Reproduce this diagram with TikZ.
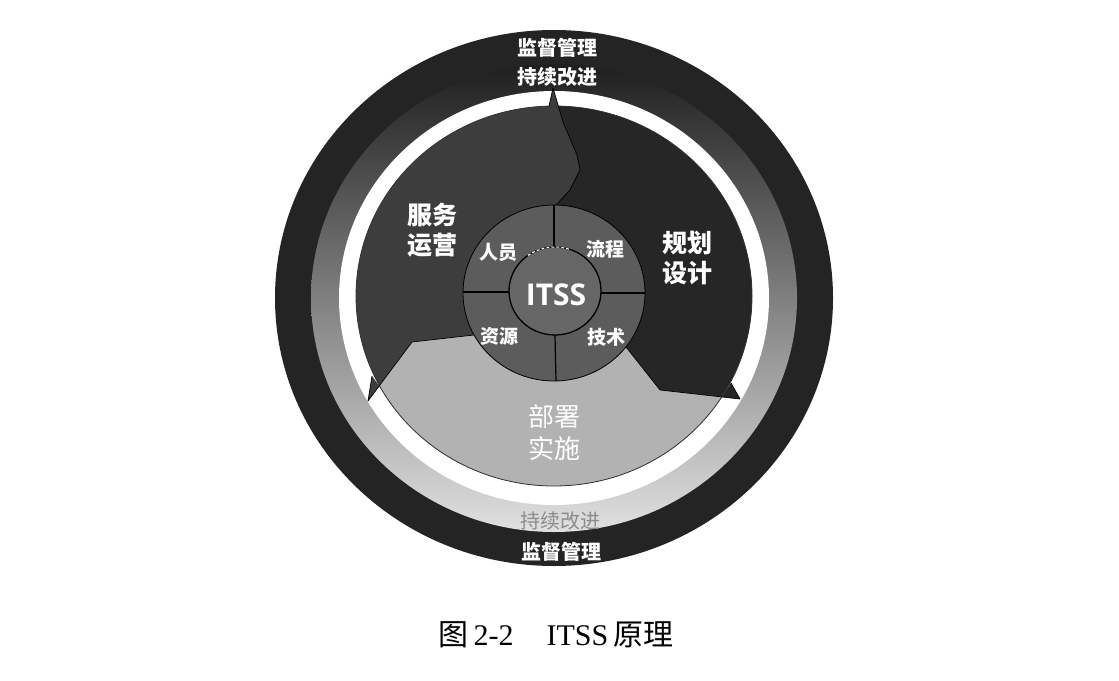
\documentclass[tikz,border=0pt]{standalone}
\usepackage{fontspec}
\newfontfamily\cjk{Noto Sans CJK SC}
\newfontfamily\itssfont{Open Sans}
\newfontfamily\capserif{Liberation Serif}
\begin{document}
\begin{tikzpicture}[x=1pt,y=-1pt,
  wt/.style={text=white,inner sep=0pt,align=center},
  bnd/.style={draw=black,line width=0.7pt,line join=round},
  ringtxt/.style={wt,font=\cjk\bfseries\fontsize{20}{22}\selectfont},
  bigtxt/.style={wt,font=\cjk\bfseries\fontsize{25}{30}\selectfont},
  quadtxt/.style={wt,font=\cjk\bfseries\fontsize{19}{21}\selectfont}]
\colorlet{ringdark}{black!86}
\colorlet{svc}{black!76}
\colorlet{plan}{black!85}
\colorlet{dep}{black!30}
\colorlet{midc}{black!64}
\colorlet{itssc}{black!60}
\useasboundingbox (0,0) rectangle (1119,680);
\fill[white] (0,0) rectangle (1119,680);
\coordinate (rc) at (554,298);
\coordinate (dc) at (554,296);
\coordinate (ic) at (554,293);
\coordinate (tc) at (555,291);
% outer rings
\fill[ringdark] (rc) ellipse [x radius=279, y radius=268];
\shade[top color=black!88, middle color=black!42, bottom color=black!12] (rc) ellipse [x radius=243, y radius=234];
\fill[white] (rc) ellipse [x radius=215, y radius=207];
% inner disc
\fill[svc] (dc) ellipse [x radius=198, y radius=190];
\begin{scope}
\clip (dc) ellipse [x radius=198, y radius=190];
\fill[plan] (553,0) -- (553,88) -- (563,122) -- (577,155) -- (580,170) -- (570,190) -- (556,205) -- (ic) -- (626,347) -- (660,390) -- (740,399) -- (900,399) -- (900,0) -- cycle;
\fill[dep] (368,401) -- (412,342) -- (474,335) -- (ic) -- (626,347) -- (660,390) -- (740,399) -- (900,399) -- (900,600) -- (200,600) -- (200,401) -- cycle;
\end{scope}
% tips
\coordinate (tT) at (553,88);
\coordinate (tL) at (368,401);
\coordinate (tR) at (740,399);
\fill[svc] (tT) -- (558.3,106) -- (549,106) -- cycle;
\fill[svc] (tL) -- (379.2,386) -- (372,376) -- cycle;
\fill[plan] (tR) -- (722,397) -- (731,383) -- cycle;
\draw[draw=black!80,line width=0.8pt] (dc) ellipse [x radius=198, y radius=190];
% region boundaries
\draw[bnd] (549,106) -- (tT) -- (563,122) -- (577,155) -- (580,170) -- (570,190) -- (556,205);
\draw[bnd] (372,376) -- (tL) -- (412,342) -- (474,335);
\draw[bnd] (731,383) -- (tR) -- (660,390) -- (626,347);
% middle circle
\fill[midc] (ic) ellipse [x radius=91, y radius=88];
\draw[draw=black,line width=0.8pt] (ic) ellipse [x radius=91, y radius=88];
\draw[black,line width=1.2pt] (554,205) -- (554,247);
\draw[black,line width=1.2pt] (555,335) -- (556,381);
\draw[black,line width=1.2pt] (463,292) -- (509,292);
\draw[black,line width=1.2pt] (601,293) -- (645,293);
% ITSS circle
\fill[itssc] (tc) ellipse [x radius=46, y radius=44];
\draw[draw=black,line width=1.3pt] (tc) ellipse [x radius=46, y radius=44];
\draw[white,line width=1pt,dash pattern=on 3pt off 2pt] (tc) ++(-126:46 and 44) arc [start angle=-126, end angle=-72, x radius=46, y radius=44];
% texts
\node[ringtxt] (jd1) at (557,48) {监督管理};
\node[ringtxt] (cx1) at (557,77) {持续改进};
\node[ringtxt] (jd2) at (561,552) {监督管理};
\node[inner sep=0pt,text=black!45,font=\cjk\fontsize{20}{22}\selectfont] (cx2) at (560,521) {持续改进};
\node[bigtxt] (fw) at (432,230) {服务\\运营};
\node[bigtxt] (gh) at (687,258) {规划\\设计};
\node[wt,font=\cjk\fontsize{26}{32}\selectfont] (bs) at (554,433) {部署\\实施};
\node[wt,font=\itssfont\bfseries\fontsize{30}{32}\selectfont] (itss) at (556,295) {ITSS};
\node[quadtxt] (ry) at (498,252) {人员};
\node[quadtxt] (lc) at (605,249) {流程};
\node[quadtxt] (zy) at (499,336) {资源};
\node[quadtxt] (js) at (606,337) {技术};
% caption
\node[inner sep=0pt,font=\fontsize{30}{32}\selectfont] (cap) at (556,635) {{\cjk 图}\,{\capserif 2-2}\hspace{1.1em}{\capserif ITSS}\,{\cjk 原理}};
\end{tikzpicture}
\end{document}
